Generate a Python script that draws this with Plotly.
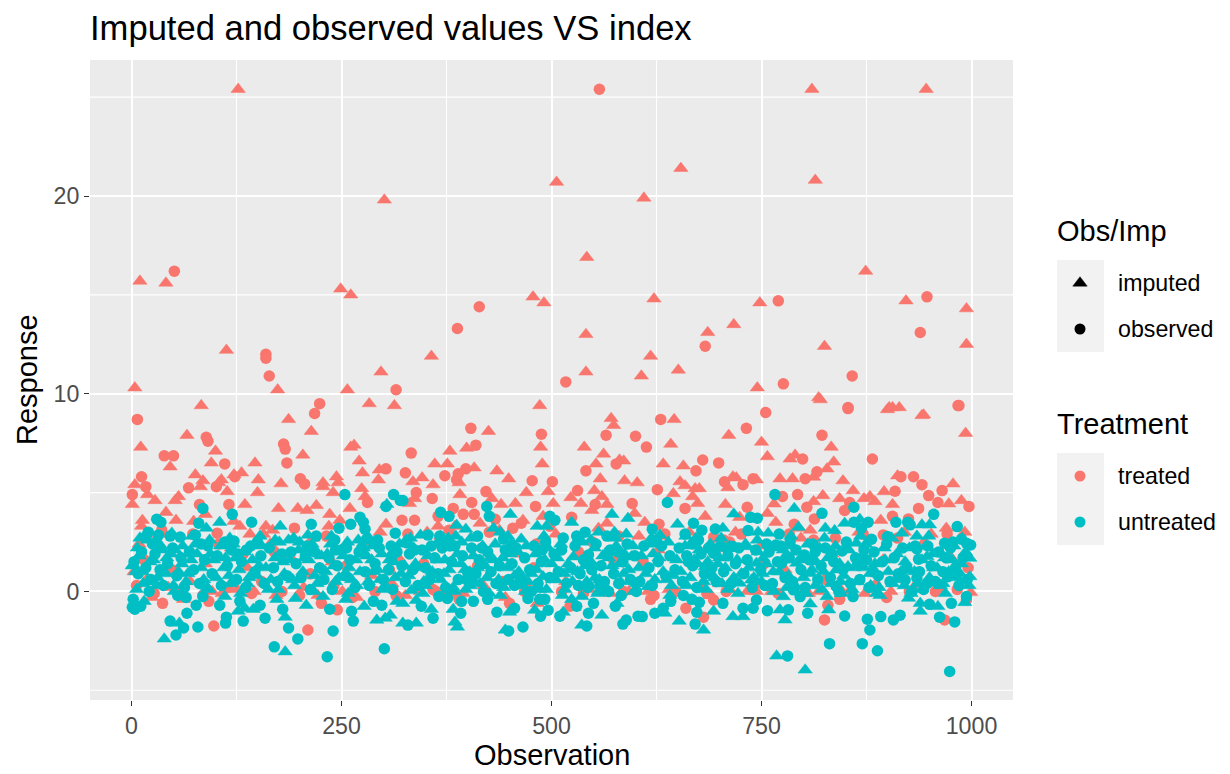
import plotly.graph_objects as go

treated_imputed = [(127,25.4),(810,25.4),(946,25.4),(506,20.7),(654,21.4),(610,19.9),(814,20.8),(301,19.8),(542,16.9),(874,16.2),(10,15.7),(41,15.6),(249,15.3),(261,15),(478,14.9),(491,14.6),(622,14.8),(922,14.7),(994,14.3),(541,13),(686,13.1),(717,13.5),(748,14.6),(113,12.2),(825,12.4),(618,11.9),(357,11.9),(651,11.2),(607,10.9),(541,11.1),(297,11.1),(4,10.3),(257,10.2),(174,10.2),(745,10.3),(818,9.8),(994,12.5),(941,8.9),(900,9.2),(906,9.3),(914,9.3),(283,9.5),(313,9.4),(83,9.4),(993,8),
(187,8.7),(214,8.1),(66,7.9),(11,7.3),(100,7.1),(204,6.9),(46,6.3),(95,6.5),(147,6.5),(271,6.6),(261,7.3),(265,7.4),(76,5.9),(85,5.6),(82,5.3),(107,5.65),(104,5.5),(131,6),(122,5.9),(151,5.65),(178,5.45),(228,5.5),(228,5.3),(244,5.8),(246,5.5),(275,6),(295,6.15),(294,5.65),(274,5.2),(278,4.8),(240,5),(150,5),(114,5.05),(56,4.8),(52,4.6),(4,5.4),(19,4.9),(28,4.6),(1,4.4),(135,4.4),(175,4.2),(198,4.2),(209,4.1),(220,4.35),(236,3.9),(260,4.2),(303,3.4),(41,4),(13,3.6),(12,3.3),(53,3.6),(74,3.55),(88,3.9),(122,3.55),(129,3.3),(160,3.3),(141,2.9),(157,2.9),(168,3.1),(235,3.3),(248,3.6),
(486,9.4),(425,8.1),(379,7.1),(399,7.25),(361,6.45),(376,6.45),(408,6.25),(435,6.1),(449,5.7),(346,5.75),(335,5.55),(359,5.4),(391,4.9),(390,5.5),(487,7.3),(489,6.45),(539,7.3),(571,8.75),(574,8.4),(646,8.7),(642,7.45),(562,6.95),(553,6.45),(558,5.7),(551,5.1),(560,4.8),(566,4.4),(548,4.1),(581,6.65),(586,6.6),(587,5.6),(602,5.5),(633,6.45),(657,6.35),(653,5.55),(659,5.35),(671,5.2),(676,5.2),(668,4.8),(674,4.45),(645,4.95),(470,5),(496,5.05),(523,4.75),(535,4.45),(502,4.45),(440,4.4),(457,4.45),(429,4.7),(337,4.7),(466,3.6),(490,3.8),(611,3.5),(599,3.95),(566,3.45),(683,3.8),(415,3.45),(365,3.3),(385,3.3),(331,4.45),
(820,9.7),(711,7.9),(750,7.55),(757,6.82),(784,6.7),(790,6.9),(833,7.3),(836,6.55),(828,6.2),(716,5.8),(720,5.75),(710,5.25),(744,5.65),(772,5.7),(787,5.7),(812,5.78),(847,5.6),(859,5.1),(823,4.85),(812,4.55),(843,4.7),(872,4.7),(879,4.8),(896,5.05),(885,4.55),(906,4.4),(912,5.85),(902,9.3),(943,8.93),(978,5.44),(988,4.6),(973,4.43),(707,4.4),(765,4.43),(757,3.95),(767,3.5),(724,3.75),(892,3.6),(970,3.2),(999,-0.05),(808,3.1),(794,3.2),(873,-0.1),(744,0),(712,0.1),
(3,1.0),(9,2.4),(18,0.6),(24,-0.3),(33,2.9),(44,0.2),(62,-0.4),(70,0.5),(88,1.4),(96,0.0),(108,-0.1),(119,2.2),(126,0.1),(138,1.2),(146,0.0),(165,2.4),(172,-0.2),(190,1.7),(205,0.2),(216,2.7),(222,-0.2),(239,1.5),(251,0.0),(268,-0.3),(286,0.8),(296,3.0),(310,0.4),(318,1.7),(326,-0.2),(344,0.0),(352,3.0),(368,2.8),(374,0.0),(395,-0.1),(403,1.0),(419,0.3),(438,3.1),(445,-0.3),(461,1.9),(473,0.2),(483,-0.6),(505,2.9),(517,0.5),(527,-0.8),(545,0.1),(556,3.2),(570,-0.1),(592,0.0),(604,2.8),(615,0.0),(627,2.1),(640,0.1),(664,3.0),(678,0.3),(690,-0.2),(700,0.4),(719,3.0),(733,0.0),(749,2.3),(762,0.0),(778,1.1),(797,2.7),(806,-0.1),(818,0.0),(834,1.9),(846,0.0),(866,3.0),(881,0.1),(895,1.6),(904,0.0),(920,3.0),(931,0.2),(952,2.9),(963,0.1),(976,1.7),(992,3.0)]

treated_observed = [(557,25.4),(51,16.2),(414,14.4),(770,14.7),(947,14.9),(939,13.1),(388,13.3),(683,12.4),(160,12),(160,11.8),(164,10.9),(315,10.2),(517,10.6),(776,10.5),(858,10.9),(853,9.3),(984,9.4),(224,9.5),(218,9),(7,8.7),
(39,6.86),(50,6.86),(89,7.8),(91,7.6),(111,6.45),(181,7.46),(183,7.2),(185,6.5),(201,5.7),(206,5.44),(68,5.24),(1,4.9),(12,5.8),(17,5.3),(81,4.4),(116,4.4),(123,5.8),(303,6.2),(281,4.5),(101,5.3),(102,2.95),(37,-0.6),(98,-1.75),(210,-1.95),(245,-0.93),(226,-0.6),(92,-0.5),
(333,7),(326,6),(373,5.85),(389,5.95),(387,5.65),(398,6.2),(404,8.25),(410,7.4),(422,5.05),(358,4.7),(339,5),(405,4.5),(383,4.2),(365,3.8),(337,3.6),(322,3.6),(395,3.9),(408,3.9),(433,3.65),(464,3.45),(488,7.95),(477,5.6),(501,5.55),(531,5.1),(481,4.3),(524,3.75),(541,6.1),(552,4.4),(577,6.45),(565,7.9),(600,7.85),(613,7.3),(630,8.7),(680,6.65),(672,6.1),(626,5.15),(596,4.45),(659,4.2),(628,3.4),(618,-0.4),(660,-0.85),(681,-1.3),(482,2.4),(574,1.6),(532,2),(359,0.1),(381,-0.1),(450,-0.6),(522,-0.75),
(755,9.05),(732,8.25),(853,9.25),(985,9.4),(822,7.9),(799,6.7),(699,6.5),(882,6.7),(706,5.55),(728,5.4),(740,5.7),(802,5.7),(816,6.05),(775,4.8),(793,4.9),(804,4.26),(733,4.26),(813,3.67),(849,4.1),(855,4.5),(916,5.8),(931,5.8),(941,5.4),(909,5.07),(965,5.1),(949,4.85),(960,4.5),(937,4.2),(997,4.3),(906,3.8),(925,3.67),(895,2.86),(789,3.4),(693,2.74),(712,2.5),(825,-1.44),(968,-1.44),(829,-0.7),(843,-0.4),(994,-0.43),(693,-0.43),(705,2.6),
(6,0.3),(15,1.6),(27,-0.1),(36,3.1),(48,1.1),(58,0.0),(73,2.9),(85,-0.2),(104,2.4),(115,0.2),(133,1.9),(143,-0.1),(155,0.5),(170,2.0),(179,0.0),(194,3.2),(200,-0.2),(213,0.9),(232,2.8),(241,0.3),(256,1.3),(263,-0.3),(277,2.4),(290,0.0),(307,1.1),(315,-0.2),(329,2.9),(348,1.4),(363,0.0),(378,3.1),(390,-0.4),(412,1.3),(426,3.0),(442,0.5),(454,3.2),(468,0.0),(479,1.2),(498,3.3),(512,0.0),(538,-0.1),(549,2.5),(563,0.1),(580,2.8),(586,0.0),(609,1.5),(622,-0.2),(635,2.9),(648,0.0),(670,2.5),(685,-0.1),(696,2.1),(708,0.0),(726,2.9),(741,0.2),(753,1.4),(770,-0.1),(783,2.9),(800,0.1),(812,2.6),(827,0.6),(838,2.7),(857,0.0),(871,2.9),(886,0.3),(899,-0.3),(912,2.7),(926,0.0),(944,2.4),(957,0.0),(971,2.9),(983,0.1),(996,1.2)]

untreated_imputed = [(39,-2.4),(183,-3.05),(57,-1.6),(183,-1.3),(208,-0.7),(173,-0.4),(255,-0.4),(277,-0.75),(292,-1.45),(302,-1.35),(308,-1.2),(316,-0.5),(145,-0.9),(127,-1),(135,-0.85),(15,-0.5),(6,0.1),(111,-0.25),(195,-0.35),(228,-0.25),(105,3.5),(177,3.3),(89,3.2),(48,2.95),(171,2.6),(187,2.6),(200,2.5),(210,2.85),(270,2.6),(304,4.4),(93,2.6),(37,2.1),(52,2.1),(16,2.85),(286,1.6),(288,1),(2,1.35),(9,1.8),
(332,2.7),(344,2.85),(387,3.35),(398,3.15),(386,2.8),(377,2.7),(451,3.9),(483,3.3),(494,3.3),(524,3.5),(572,3.9),(591,3.7),(650,3.4),(589,2.9),(575,3),(556,3),(464,2.65),(455,2.35),(431,3.2),(439,3),(547,2.6),(629,2.85),(672,2.7),(339,-1.6),(323,-1.6),(323,-0.6),(333,0.05),(339,-0.45),(357,-0.9),(383,-0.9),(385,-1.55),(388,-1.8),(398,0.1),(445,-1.95),(450,-1.05),(480,-0.95),(439,-0.2),(514,-1.05),(536,-1.7),(560,-1.2),(536,-0.25),(524,-0.4),(578,-0.6),(556,0),(546,0.3),(635,-1.1),(652,-1.5),(681,-1.95),(615,0.25),(494,0.1),(415,0.4),(490,0.75),(500,1.4),(482,1.1),(431,1.6),(451,1.9),(526,1.75),(581,1.4),(637,0.6),(683,1.25),(595,1.75),
(717,3.92),(789,4.2),(704,3.2),(746,3),(758,2.95),(794,3.25),(826,3.2),(837,3.08),(849,3.45),(867,3.65),(917,2.95),(935,2.8),(941,3.37),(950,3.37),(863,2.44),(732,2.27),(776,2.1),(693,-1),(716,-1.27),(728,-1.27),(778,-1.44),(772,-0.93),(768,-3.26),(802,-3.97),(830,-0.93),(808,-0.63),(853,1.26),(925,-0.34),(939,-0.6),(939,-1),(960,-0.76),(992,-0.56),(891,-0.2),(776,-0.26),(828,-0.26),(998,1.68),(998,0.75),(986,0.92),(947,1.76),(808,0.92),(839,1.09),(752,1.68),(744,1.43),(724,0.42),(738,0.58),(764,1),(792,1.43),
(5,1.0),(14,0.4),(22,1.5),(31,0.7),(42,1.7),(50,0.3),(60,1.4),(67,0.9),(78,1.9),(86,0.6),(98,1.6),(110,1.2),(118,0.4),(124,1.7),(140,0.7),(152,1.3),(163,0.1),(180,1.5),(192,0.6),(206,1.7),(218,0.8),(233,1.9),(243,0.5),(259,1.2),(268,0.3),(280,1.8),(296,0.6),(312,1.5),(321,0.9),(338,1.4),(350,0.3),(364,1.6),(372,0.9),(392,1.4),(408,0.5),(421,1.3),(443,0.2),(461,1.0),(472,0.5),(505,0.6),(516,0.1),(540,1.3),(552,0.7),(568,1.7),(586,0.9),(604,1.2),(621,1.9),(645,0.8),(661,0.3),(674,1.4),(690,0.8),(700,1.7),(710,0.1),(750,0.5),(780,0.2),(815,1.5),(822,0.1),(844,0.5),(858,0.1),(872,1.2),(880,0.3),(897,1.6),(910,0.6),(921,1.5),(930,0.1),(955,1.2),(966,0.4),(977,1.6),
(1,1.3),(7,2.2),(13,1.0),(19,2.6),(26,1.6),(30,0.3),(35,2.3),(41,0.9),(47,1.9),(56,1.0),(61,2.3),(65,0.5),(71,1.6),(76,2.4),(83,1.2),(90,0.2),(94,1.9),(101,0.7),(106,2.3),(112,1.7),(116,0.8),(121,2.4),(128,1.1),(134,2.0),(138,0.4),(144,1.6),(149,0.8),(155,2.3),(160,1.2),(166,0.6),(171,1.7),(176,2.5),(182,0.9),(188,1.6),(194,0.3),(199,2.1),(204,1.0),(211,1.6),(215,2.4),(221,0.4),(226,1.8),(231,1.0),(237,2.4),(241,1.3),(247,0.7),(252,1.8),(257,2.5),(262,0.6),(267,1.6),(272,1.0),(276,2.2),(282,0.5),(287,2.3),(293,1.1),(298,1.9),(302,0.3),(307,1.6),(314,0.7),(319,2.4),
(325,1.3),(330,0.8),(336,2.2),(342,1.2),(348,0.5),(353,1.8),(358,1.0),(363,2.4),(368,0.6),(373,1.6),(378,1.1),(383,0.2),(388,1.9),(393,2.5),(397,1.1),(403,0.3),(407,1.8),(412,1.2),(418,2.3),(423,0.7),(427,1.7),(433,2.4),(437,0.6),(442,1.7),(447,1.2),(452,2.4),(456,0.8),(460,2.0),(466,0.3),(470,2.3),(476,0.9),(481,1.9),(486,0.1),(492,1.6),(496,2.2),(501,0.6),(507,1.7),(511,2.4),(515,0.9),(520,1.4),(525,0.5),(531,1.0),(536,2.5),(542,0.5),(547,1.5),(551,2.2),(557,0.6),(561,1.8),(565,0.2),(572,1.3),(577,2.3),(582,0.5),(587,1.9),(592,1.1),(597,2.3),(601,0.4),(607,1.8),(612,0.9),(618,2.4),(623,0.6),(628,1.7),(633,1.0),(639,2.5),(643,0.3),(649,1.6),(654,1.0),(659,2.3),(665,0.7),(670,1.6),(676,2.1),(681,0.5),(686,1.5),
(689,2.4),(694,0.7),(698,1.4),(703,0.4),(707,1.2),(712,2.3),(717,0.7),(721,1.6),(726,0.9),(731,2.4),(735,1.2),(741,0.7),(746,2.0),(751,0.9),(756,1.4),(761,0.2),(766,2.2),(771,1.0),(777,1.7),(782,0.8),(786,2.3),(790,0.3),(795,1.6),(800,0.7),(805,2.4),(810,1.1),(814,0.3),(819,2.2),(824,1.0),(829,1.7),(833,0.4),(838,2.3),(843,1.4),(848,0.8),(854,2.1),(860,1.2),(864,0.5),(869,1.7),(874,2.4),(879,0.9),(885,1.4),(890,0.2),(896,2.2),(901,1.0),(906,0.4),(911,1.9),(916,1.0),(920,0.3),(926,2.2),(932,1.0),(936,0.4),(941,1.6),(946,2.3),(950,0.7),(954,1.9),(959,1.2),(963,0.3),(968,1.7),(973,1.0),(979,2.3),(983,0.7),(988,1.4),(993,2.0),(997,0.3),
(10,2.7),(29,2.6),(51,0.0),(72,2.8),(92,0.1),(117,2.7),(130,-0.1),(153,2.8),(175,0.1),(193,2.7),(217,0.0),(238,2.8),(258,-0.1),(281,2.8),(299,0.1),(327,2.6),(347,-0.1),(369,2.6),(384,0.0),(404,2.7),(426,-0.1),(448,2.8),(469,0.0),(491,2.8),(513,-0.2),(533,2.7),(555,-0.1),(576,2.7),(598,0.0),(619,2.7),(641,-0.2),(660,2.8),(684,0.1),(702,2.7),(722,-0.1),(745,2.6),(765,0.0),(785,2.8),(803,-0.1),(825,2.7),(845,-0.1),(868,2.8),(887,-0.1),(905,2.7),(928,-0.1),(949,2.8),(969,-0.1),(989,2.7)]

untreated_observed = [(30,3.65),(35,3.5),(85,4.2),(120,3.9),(80,3.45),(143,3.5),(254,4.9),(312,4.9),(303,4.3),(320,4.6),(214,3.4),(247,3.2),(261,3.4),(272,3.75),(276,3.5),(278,3.15),(314,2.95),(20,3),(32,2.85),(25,2.4),(46,2.8),(58,2.75),(76,2.85),(83,2.4),(111,2.5),(122,2.55),(150,2.5),(137,2.1),(127,1.9),(220,2.8),(209,2.3),(242,2.6),(243,2.1),(256,2.2),(280,2.65),(293,2.6),(309,2.3),(310,1.8),(274,2.2),
(2,-0.4),(1,-0.8),(4,-0.9),(11,-0.75),(21,0),(46,-1.5),(66,-1.1),(62,-1.85),(53,-2.2),(79,-1.8),(77,-0.7),(85,-0.25),(55,-0.2),(65,-0.3),(113,-1.3),(112,-1.6),(105,-0.7),(129,-0.5),(133,-1.5),(159,-1.35),(153,-0.7),(180,-0.9),(187,-1.85),(170,-2.8),(198,-2.4),(240,-2),(233,-3.3),(301,-2.9),(264,-1.5),(262,-1),(236,-0.9),(298,-0.7),(288,-0.5),
(323,4.6),(368,4),(378,3.8),(423,4.3),(426,3.8),(638,4.5),(620,3.15),(669,3.45),(679,3.1),(659,2.9),(675,2.6),(566,2.8),(540,3),(498,3.8),(504,3.6),(353,2.85),(367,2.8),(328,2.45),(337,2.1),(357,2.3),(379,2.3),(412,2.8),(417,2.2),(443,2.65),(489,2.1),(514,2.7),(530,2.8),(544,1.85),(568,2),(579,2),(625,2.6),(661,1.8),(668,1.3),(393,-0.5),(407,-0.5),(376,-0.35),(366,-0.25),(359,-1.35),(345,-0.75),(392,-1.1),(424,-0.4),(435,-1.05),(456,0.3),(476,0),(472,-0.35),(456,-0.85),(466,-1.8),(449,-2),(487,-1.25),(496,-0.95),(486,-0.4),(492,-0.4),(510,-1.25),(530,-0.75),(550,-0.6),(544,-1.1),(542,-1.75),(558,0.4),(568,0),(583,-0.2),(576,-0.75),(589,-1.45),(585,-1.65),(603,-1.25),(608,-1.27),(623,-1.1),(633,-0.85),(642,-0.5),(657,-0.2),(667,-0.4),(676,-0.55),(673,-1.05),(671,-1.65),(601,0),(532,0.3),(399,0.6),(329,-1.7),
(766,4.9),(860,4.26),(822,3.95),(955,3.9),(737,3.75),(745,3.7),(734,3.08),(695,3.16),(771,2.9),(983,3.28),(910,3.5),(924,3.5),(927,3.37),(877,3.5),(869,3.2),(860,3.5),(756,2.4),(767,2.35),(784,2.5),(708,2.2),(716,2.27),(881,2.64),(900,2.78),(935,2.15),(937,1.63),(801,1.85),(814,2),(834,1.9),(846,2.05),(774,1.43),(988,2.64),(999,2.35),(994,2.44),(978,2.5),(968,2.44),(744,-0.43),(740,-0.85),(728,-0.85),(757,-0.97),(782,-0.93),(805,-1.1),(849,-1.24),(876,-1.4),(892,-1.27),(907,-1.44),(915,-1.2),(879,-1.95),(962,-1.3),(980,-1.54),(976,-0.6),(950,-0.65),(831,-2.64),(870,-2.64),(888,-3),(781,-3.26),(974,-4.05),(704,-0.6),(788,0.08),(796,-0.26),(859,-0.26),(839,0.25),(994,-0.26),(947,0.4),(935,0.67),(921,0.58),(883,1),(865,1.43),(875,1.6),(693,1.93),(972,0.75),
(3,1.5),(8,0.9),(12,2.0),(17,1.2),(23,0.6),(28,1.9),(34,1.1),(38,0.3),(43,1.4),(49,2.2),(54,0.8),(59,1.7),(63,0.2),(69,2.0),(74,1.1),(81,0.4),(87,1.6),(91,2.3),(96,0.9),(102,1.8),(107,0.3),(114,1.3),(119,2.1),(125,0.6),(131,1.5),(136,0.2),(142,2.3),(147,1.0),(154,1.8),(158,0.4),(164,2.2),(169,1.2),(174,0.5),(179,1.9),(185,0.8),(190,2.0),(196,1.4),(202,0.7),(207,1.8),(213,0.1),(218,2.0),(224,1.2),(229,0.6),(235,1.7),(239,0.1),(245,1.3),(250,2.1),(255,0.8),(260,1.6),(266,0.2),(271,2.0),(278,1.0),(283,0.3),(290,1.4),(295,2.2),(300,0.6),(306,1.1),(311,0.1),(316,2.0),(322,1.3),
(326,0.5),(331,1.9),(335,1.1),(341,0.3),(346,2.1),(350,1.2),(355,0.6),(361,1.7),(365,0.9),(370,2.2),(374,0.2),(381,1.5),(385,2.3),(389,0.6),(394,1.8),(400,1.0),(405,2.2),(410,0.9),(414,1.6),(419,0.0),(424,2.0),(428,1.0),(434,0.4),(438,1.3),(445,2.1),(449,0.6),(453,1.4),(458,2.2),(463,0.7),(468,1.7),(474,1.1),(479,2.3),(484,0.4),(488,1.5),(493,2.5),(498,0.7),(503,1.9),(508,1.0),(512,2.1),(518,0.4),(523,1.2),(528,2.3),(534,0.9),(538,1.6),(543,0.2),(548,1.1),(553,2.4),(559,1.3),(563,0.5),(570,2.1),(574,0.9),(580,0.4),(585,1.5),(590,2.4),(594,0.6),(599,1.8),(605,0.5),(610,2.3),(616,1.2),(620,0.3),(627,1.5),(631,2.3),(636,0.8),(641,1.8),(647,1.1),(652,2.2),(656,0.5),(663,1.5),(668,2.4),(673,0.2),(678,1.9),(682,0.9),(687,2.2),
(691,1.2),(696,0.5),(701,2.3),(705,1.0),(710,1.8),(714,0.4),(719,1.4),(723,2.2),(729,0.9),(733,1.6),(739,0.2),(743,2.1),(749,1.1),(754,0.3),(759,2.0),(763,0.4),(769,1.5),(773,2.3),(778,0.7),(783,1.7),(787,0.5),(791,2.1),(797,1.1),(802,0.2),(807,1.6),(811,2.4),(817,0.6),(821,1.3),(826,2.2),(832,0.7),(836,1.5),(842,0.0),(847,1.1),(851,2.5),(856,0.4),(862,1.7),(867,0.6),(872,2.1),(878,0.2),(884,2.0),(889,0.8),(894,1.5),(899,2.4),(903,0.5),(908,1.7),(913,0.9),(918,2.2),(923,1.2),(929,0.0),(933,2.3),(938,1.0),(943,0.1),(948,2.3),(952,1.3),(957,0.5),(961,2.0),(966,1.0),(970,1.7),(975,2.2),(981,1.2),(985,0.3),(990,1.7),(995,0.6)]

x_ticks = [0, 250, 500, 750, 1000]
x_minor = [125, 375, 625, 875]
y_ticks = [0, 10, 20]
y_minor = [-5, 5, 15, 25]
RED = "#F8766D"
TEAL = "#00BFC4"
FONT = "Liberation Sans"
W, H = 1230, 774
TRI_SIZE = 12.5
TRI_LINE = 0.5
CIRCLE_SIZE = 11.5

series = [(treated_imputed, RED, "triangle-up", "treated / imputed"),
          (treated_observed, RED, "circle", "treated / observed"),
          (untreated_imputed, TEAL, "triangle-up", "untreated / imputed"),
          (untreated_observed, TEAL, "circle", "untreated / observed")]

fig = go.Figure()
for pts, col, sym, name in series:
    tri = sym != "circle"
    fig.add_trace(go.Scatter(
        x=[p[0] for p in pts], y=[p[1] for p in pts], mode="markers", name=name, showlegend=False,
        marker=dict(color=col, symbol=sym, size=TRI_SIZE if tri else CIRCLE_SIZE,
                    line=dict(color=col, width=TRI_LINE if tri else 0))))

keys = [(1080, 283, "black", "triangle-up", "imputed"), (1080, 329, "black", "circle", "observed"),
        (1080, 476, RED, "circle", "treated"), (1080, 522, TEAL, "circle", "untreated")]
for kx, ky, col, sym, label in keys:
    tri = sym != "circle"
    fig.add_trace(go.Scatter(x=[kx], y=[ky], xaxis="x2", yaxis="y2", mode="markers", showlegend=False,
                             hoverinfo="skip",
                             marker=dict(color=col, symbol=sym, size=TRI_SIZE if tri else 11,
                                         line=dict(color=col, width=TRI_LINE if tri else 0))))

def page_rect(x0, x1, top, bottom, fill):
    return dict(type="rect", xref="paper", yref="paper", x0=x0/W, x1=x1/W, y0=1-bottom/H, y1=1-top/H,
                fillcolor=fill, line=dict(width=0), layer="below")

shapes = [page_rect(90, 1013, 60, 700, "#EBEBEB"),
          page_rect(1057, 1104, 260, 352, "#F2F2F2"),
          page_rect(1057, 1104, 453, 545, "#F2F2F2")]
for v in x_minor:
    shapes.append(dict(type="line", xref="x", yref="paper", x0=v, x1=v, y0=74/H, y1=714/H,
                       line=dict(color="white", width=1.1), layer="below"))
for v in y_minor:
    shapes.append(dict(type="line", xref="paper", yref="y", x0=90/W, x1=1013/W, y0=v, y1=v,
                       line=dict(color="white", width=1.1), layer="below"))

def page_text(text, x, y, size, anchor="left", angle=0):
    return dict(text=text, x=x/W, y=1-y/H, xref="paper", yref="paper", xanchor=anchor, yanchor="middle",
                showarrow=False, textangle=angle, font=dict(family=FONT, size=size, color="black"))

annotations = [page_text("Obs/Imp", 1055, 231, 29), page_text("Treatment", 1055, 424, 29)]
for kx, ky, col, sym, label in keys:
    annotations.append(page_text(label, 1116, ky, 23.2))
annotations.append(page_text("Imputed and observed values VS index", 88, 28, 34.6))
annotations.append(page_text("Observation", 551.5, 755, 29, anchor="center"))
annotations.append(page_text("Response", 27, 380, 29, anchor="center", angle=-90))

fig.update_layout(
    width=W, height=H, margin=dict(l=0, r=0, t=0, b=0), autosize=False,
    paper_bgcolor="white", plot_bgcolor="rgba(0,0,0,0)", showlegend=False,
    font=dict(family=FONT), shapes=shapes, annotations=annotations,
    xaxis=dict(domain=[90/W, 1013/W], range=[-49.4, 1049.4], tickvals=x_ticks, ticks="outside", ticklen=5, tickwidth=1.4,
               tickcolor="#333333", showgrid=True, gridcolor="white", gridwidth=2.2, zeroline=False, showline=False,
               tickfont=dict(family=FONT, size=23.2, color="#4D4D4D"), anchor="y"),
    yaxis=dict(domain=[1-700/H, 1-60/H], range=[-5.49, 26.88], tickvals=y_ticks, ticks="outside", ticklen=5, tickwidth=1.4,
               tickcolor="#333333", showgrid=True, gridcolor="white", gridwidth=2.2, zeroline=False, showline=False,
               tickfont=dict(family=FONT, size=23.2, color="#4D4D4D"), anchor="x"),
    xaxis2=dict(domain=[0, 1], range=[0, W], visible=False, anchor="y2", fixedrange=True),
    yaxis2=dict(domain=[0, 1], range=[H, 0], visible=False, anchor="x2", fixedrange=True),
)
fig.write_html("out.html", config=dict(displayModeBar=False),
               post_script="document.body.style.margin='0';")
